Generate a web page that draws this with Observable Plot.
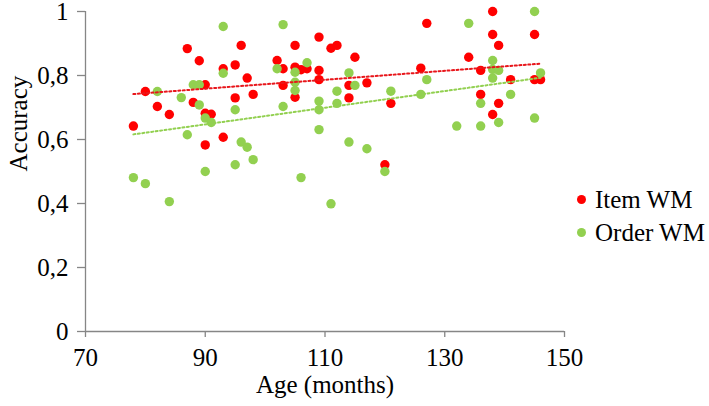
<!DOCTYPE html>
<html>
<head>
<meta charset="utf-8">
<script src="https://cdn.jsdelivr.net/npm/d3@7"></script>
<script src="https://cdn.jsdelivr.net/npm/@observablehq/plot@0.6"></script>
<style>
  html, body { margin: 0; padding: 0; background: #fff; }
  #wrap { position: relative; width: 709px; height: 406px; font-family: "Liberation Serif", "Times New Roman", serif; }
  .leg { position: absolute; left: 577px; font-size: 25px; line-height: 25px; color: #000; white-space: nowrap; display: flex; align-items: center; }
  .leg span.dot { display: inline-block; width: 9px; height: 9px; border-radius: 50%; margin-right: 9px; }
</style>
</head>
<body>
<div id="wrap"></div>
<script>
// ---- Data ----
const itemAge = [78,80,82,84,87,89,88,90,90,91,90,93,95,95,93,96,97,98,105,109,111,112,115,102,103,105,106,107,109,109,103,105,114,114,117,121,120,127,138,138,145,139,134,126,136,141,145,146,136,139,138];
const itemAcc = [0.642,0.750,0.703,0.678,0.884,0.846,0.716,0.771,0.682,0.679,0.583,0.821,0.833,0.730,0.607,0.894,0.792,0.741,0.894,0.920,0.885,0.894,0.857,0.847,0.821,0.826,0.818,0.821,0.816,0.787,0.769,0.732,0.769,0.730,0.777,0.713,0.521,0.963,1.0,0.928,0.928,0.894,0.857,0.823,0.816,0.787,0.787,0.787,0.741,0.713,0.678];

const orderAge = [93,82,86,88,89,89,93,87,90,91,95,96,90,95,78,80,84,103,107,102,105,105,105,114,115,112,112,109,109,103,121,109,97,114,117,98,106,120,111,145,134,138,138,139,138,146,127,126,141,136,132,136,139,145];
const orderAcc = [0.953,0.750,0.731,0.771,0.771,0.708,0.807,0.615,0.667,0.653,0.693,0.592,0.500,0.521,0.481,0.462,0.406,0.959,0.840,0.821,0.810,0.779,0.753,0.808,0.769,0.751,0.713,0.720,0.693,0.703,0.751,0.631,0.576,0.592,0.571,0.537,0.481,0.500,0.399,1.0,0.963,0.847,0.819,0.816,0.792,0.808,0.787,0.741,0.741,0.713,0.642,0.642,0.653,0.667];

const trendAge = [78, 146];
const itemTrend = [0.742, 0.837];
const orderTrend = [0.616, 0.793];

const xTicks = [70, 90, 110, 130, 150];
const yTicks = [0, 0.2, 0.4, 0.6, 0.8, 1];
const seriesNames = ["Item WM", "Order WM"];
const seriesColors = ["#ff0000", "#92d050"];
const xLabel = "Age (months)";
const yLabel = "Accuracy";

// ---- Tables built from the arrays ----
const itemPts = itemAge.map((a, i) => ({age: a, acc: itemAcc[i]}));
const orderPts = orderAge.map((a, i) => ({age: a, acc: orderAcc[i]}));
const itemLine = trendAge.map((a, i) => ({age: a, acc: itemTrend[i]}));
const orderLine = trendAge.map((a, i) => ({age: a, acc: orderTrend[i]}));
const fmt = d => String(d).replace(".", ",");
const axisGray = "#868686";
const serif = "Liberation Serif";

const chart = Plot.plot({
  width: 709,
  height: 406,
  marginLeft: 85,
  marginRight: 145,
  marginTop: 11,
  marginBottom: 75,
  x: {domain: [70, 150]},
  y: {domain: [0, 1]},
  style: {fontFamily: "'Liberation Serif', serif", fontSize: "25px", color: "#000", background: "#fff"},
  marks: [
    Plot.ruleX([70], {stroke: axisGray, strokeWidth: 1.3}),
    Plot.ruleY([0], {stroke: axisGray, strokeWidth: 1.3}),
    Plot.axisY({ticks: yTicks, tickSize: 8, tickFormat: () => "", label: null, stroke: axisGray, strokeWidth: 1.3}),
    Plot.axisX({ticks: xTicks, tickSize: 6, tickFormat: () => "", label: null, stroke: axisGray, strokeWidth: 1.3}),
    Plot.text(yTicks, {y: d => d, frameAnchor: "left", dx: -17, textAnchor: "end", text: fmt, fill: "#000", fontFamily: serif, fontSize: 25}),
    Plot.text(xTicks, {x: d => d, frameAnchor: "bottom", dy: 17, lineAnchor: "top", text: d => String(d), fill: "#000", fontFamily: serif, fontSize: 25}),
    Plot.text([xLabel], {frameAnchor: "bottom", dy: 61, text: d => d, fill: "#000", fontFamily: serif, fontSize: 25}),
    Plot.text([yLabel], {frameAnchor: "left", dx: -67, rotate: -90, text: d => d, fill: "#000", fontFamily: serif, fontSize: 25}),
    Plot.dot(itemPts, {x: "age", y: "acc", r: 4.7, fill: seriesColors[0], stroke: "none"}),
    Plot.dot(orderPts, {x: "age", y: "acc", r: 4.7, fill: seriesColors[1], stroke: "none"}),
    Plot.line(itemLine, {x: "age", y: "acc", stroke: "#e8161b", strokeWidth: 2, strokeDasharray: "2,2.5"}),
    Plot.line(orderLine, {x: "age", y: "acc", stroke: seriesColors[1], strokeWidth: 2, strokeDasharray: "2,2.5"})
  ]
});

const wrap = document.getElementById("wrap");
wrap.appendChild(chart);
const legTops = [187, 220];
seriesNames.forEach((name, i) => {
  const d = document.createElement("div");
  d.className = "leg";
  d.style.top = legTops[i] + "px";
  d.innerHTML = `<span class="dot" style="background:${seriesColors[i]}"></span>${name}`;
  wrap.appendChild(d);
});
</script>
</body>
</html>
